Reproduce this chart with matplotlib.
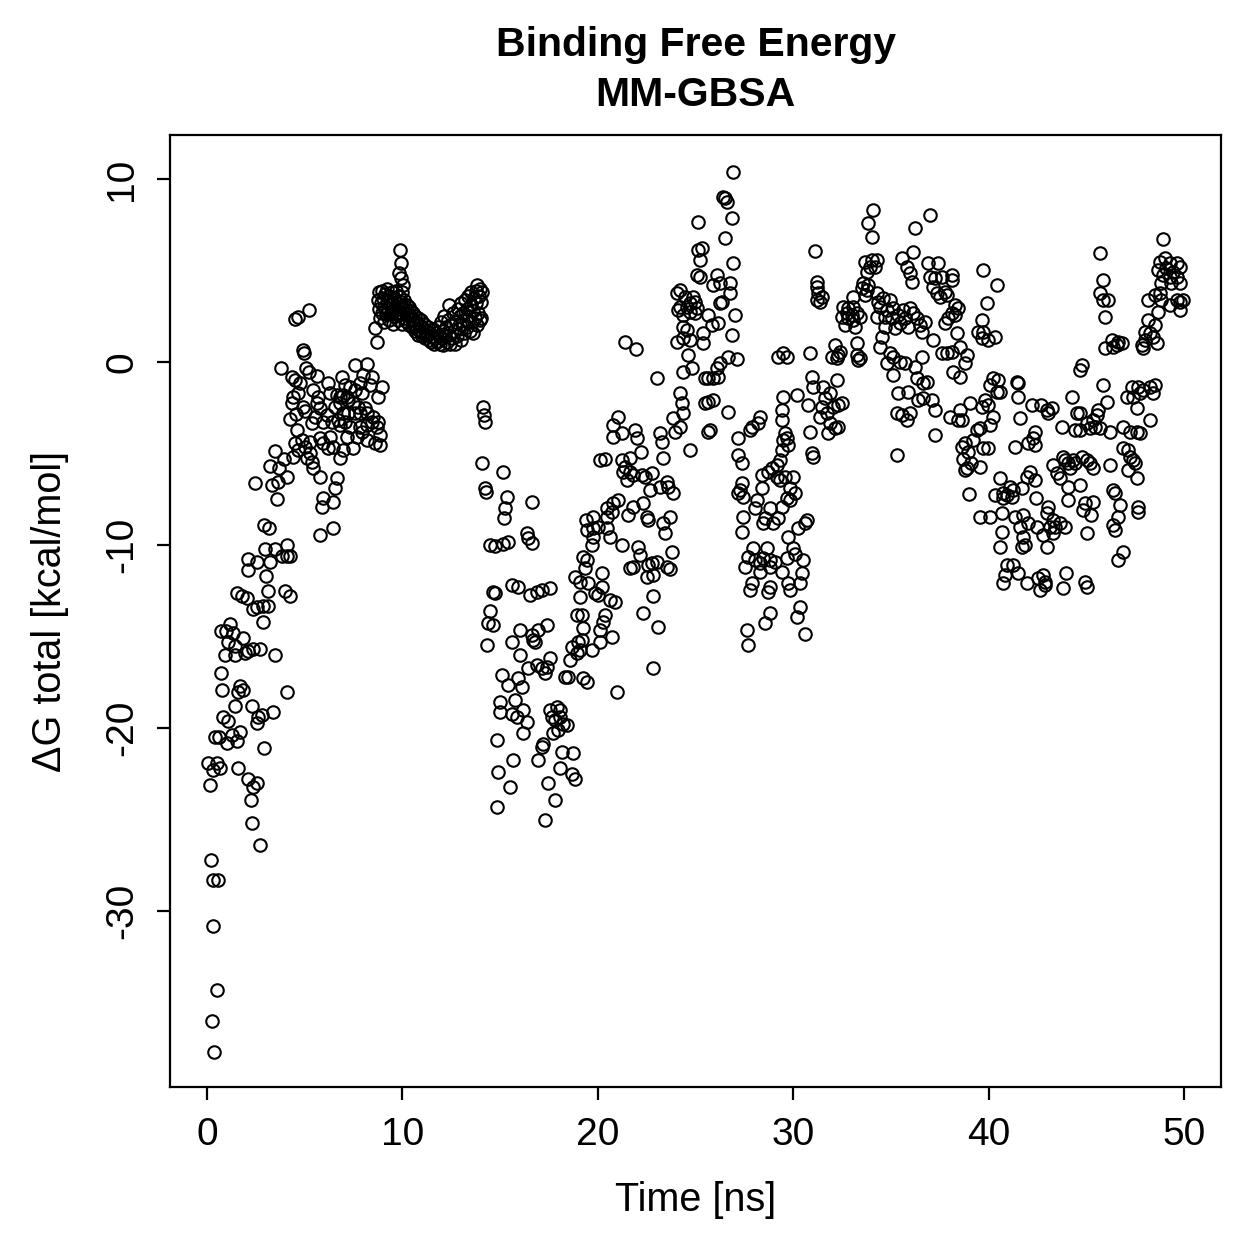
import numpy as np
import matplotlib.pyplot as plt

plt.rcParams["font.family"] = ["Liberation Sans", "DejaVu Sans"]
plt.rcParams["axes.unicode_minus"] = False

# (time [ns], dG total [kcal/mol]), grouped by stretch of the run
equilibration = [
    (3.77, -0.3), (4.25, -3.09), (4.56, -2.84), (3.48, -4.86), (3.91, -5.32), (3.22, -5.7),
    (3.70, -5.79), (4.08, -6.26), (2.46, -6.63), (3.31, -6.72), (3.65, -6.56), (3.60, -7.49),
    (2.92, -8.89), (3.19, -9.04), (2.97, -10.22), (3.48, -10.22), (4.08, -9.98), (3.82, -10.6),
    (4.08, -10.6), (4.25, -10.6), (2.11, -10.75), (2.11, -11.37), (2.54, -10.9), (3.22, -10.9),
    (3.02, -11.7), (3.14, -12.5), (3.99, -12.5), (4.25, -12.8), (1.52, -12.6), (1.78, -12.8),
    (2.03, -12.9), (2.37, -13.5), (2.54, -13.4), (2.85, -13.3), (3.14, -13.3), (2.85, -14.2),
    (0.70, -14.7), (0.97, -14.7), (1.18, -14.3), (1.35, -14.8), (1.09, -15.3), (1.43, -15.5),
    (1.86, -15.1), (1.94, -15.9), (2.11, -15.8), (2.37, -15.7), (2.71, -15.7), (3.48, -16.0),
    (0.92, -16.0), (1.43, -16.0), (0.70, -17.0), (0.75, -17.9), (1.69, -17.7), (1.83, -17.9),
    (1.60, -18.0), (1.43, -18.8), (4.11, -18.0), (2.29, -18.8), (2.63, -19.4), (2.54, -19.7),
    (2.80, -19.3), (3.39, -19.1), (0.83, -19.4), (1.09, -19.6), (1.26, -20.4), (1.01, -20.8),
    (1.52, -20.7), (1.69, -20.2), (0.41, -20.5), (0.63, -20.5), (2.92, -21.1), (0.07, -21.9),
    (0.32, -22.3), (0.66, -22.2), (0.50, -21.9), (0.15, -23.1), (1.60, -22.2), (2.11, -22.8),
    (2.37, -23.2), (2.54, -23.0), (2.24, -23.9), (2.29, -25.2), (2.71, -26.4), (0.19, -27.2),
    (0.32, -28.3), (0.58, -28.3), (0.29, -30.8), (0.53, -34.3), (0.24, -36.0), (0.36, -37.7),
    (5.19, 2.84), (4.50, 2.33), (4.67, 2.44), (4.93, 0.66), (4.96, 0.47), (5.07, -0.35),
    (5.19, -0.53), (5.61, -0.77), (4.33, -0.8), (4.50, -0.98), (4.76, -1.17), (4.67, -1.71),
    (4.42, -1.9), (4.33, -2.26), (5.44, -1.53), (4.93, -2.44), (5.61, -2.26), (5.02, -2.7),
    (6.21, -1.17), (6.29, -1.71), (6.89, -0.8), (7.06, -1.26), (6.98, -1.8), (7.57, -0.16),
    (8.17, -0.11), (8.00, -0.71), (8.43, -0.8), (8.94, -1.35), (8.77, -1.9), (8.34, -1.26),
    (7.32, -1.35), (7.57, -1.53), (7.83, -1.17), (7.92, -1.71), (7.23, -2.08), (7.49, -2.26),
    (7.74, -2.44), (8.09, -2.53), (6.64, -1.8), (6.81, -2.26), (6.55, -2.44), (6.98, -2.8),
    (6.72, -3.17), (6.38, -3.26), (6.13, -2.9), (5.95, -3.26), (5.78, -2.53), (5.53, -2.99),
    (5.36, -3.35), (5.70, -1.9), (4.59, -3.72), (4.50, -4.44), (4.85, -4.26), (4.67, -4.81),
    (5.02, -4.63), (5.27, -4.36), (5.27, -4.99), (5.10, -5.26), (5.36, -5.45), (5.44, -5.81),
    (4.42, -5.17), (5.78, -6.27), (5.95, -4.44), (6.21, -4.72), (6.46, -4.63), (6.29, -4.08),
    (5.78, -4.17), (6.64, -6.36), (6.55, -6.9), (6.46, -7.63), (5.95, -7.45), (5.87, -7.91),
    (5.78, -9.45), (6.46, -9.09), (6.98, -4.81), (6.81, -5.26), (7.49, -4.72), (7.15, -4.08),
    (7.66, -4.08), (7.83, -3.53), (8.17, -3.44), (8.43, -3.26), (8.68, -3.53), (8.85, -3.99),
    (8.60, -4.44), (8.85, -4.54), (8.17, -4.26), (7.92, -3.81), (7.32, -3.53), (7.06, -3.26),
    (6.81, -3.44), (7.23, -2.8), (7.57, -2.8), (7.83, -2.8), (8.17, -2.8), (8.51, -2.99),
    (8.77, -3.26), (6.81, -1.9), (7.15, -1.9), (8.60, 1.84), (8.68, 1.11),
]

plateau = [
    (8.75, 3.4), (8.8, 2.9), (8.8, 3.8), (8.85, 2.4), (8.9, 3.2), (8.95, 3.9), (8.95, 2.7),
    (9.0, 3.5), (9.05, 2.2), (9.05, 3.0), (9.1, 3.7), (9.15, 2.6), (9.2, 3.3), (9.2, 4.0),
    (9.25, 2.9), (9.3, 2.3), (9.3, 3.6), (9.35, 3.1), (9.4, 2.6), (9.45, 3.8), (9.45, 3.3),
    (9.5, 2.8), (9.5, 2.1), (9.55, 3.5), (9.6, 3.0), (9.6, 2.5), (9.65, 3.9), (9.7, 3.2),
    (9.7, 2.7), (9.75, 2.3), (9.8, 3.6), (9.85, 3.0), (9.85, 6.1), (9.9, 5.4), (9.8, 4.85),
    (9.95, 4.6), (10.05, 4.2), (9.9, 2.6), (9.95, 3.3), (10.0, 2.1), (10.0, 3.8), (10.05, 2.9),
    (10.1, 2.4), (10.1, 3.4), (10.15, 3.0), (10.2, 2.6),
    (10.25, 3.1), (10.25, 2.2), (10.3, 2.7), (10.35, 3.0), (10.35, 2.0), (10.4, 2.5),
    (10.45, 2.8), (10.5, 1.9), (10.5, 2.3), (10.55, 2.7), (10.6, 2.1), (10.65, 1.7),
    (10.65, 2.5), (10.7, 2.2), (10.75, 1.8), (10.8, 2.4), (10.8, 1.5), (10.85, 2.0),
    (10.9, 1.7), (10.95, 2.3), (11.0, 1.4), (11.0, 1.9), (11.05, 1.6), (11.1, 2.1),
    (11.15, 1.3), (11.2, 1.7), (11.25, 1.5), (11.3, 1.9), (11.35, 1.2), (11.4, 1.6),
    (11.45, 1.1), (11.5, 1.4),
    (11.55, 1.8), (11.6, 1.0), (11.65, 1.3), (11.7, 1.6), (11.75, 1.1), (11.8, 1.9),
    (11.85, 1.4), (11.9, 1.0), (11.95, 2.2), (12.0, 1.3), (12.05, 1.7), (12.1, 0.95),
    (12.15, 2.5), (12.2, 1.4), (12.25, 1.9), (12.3, 1.1), (12.35, 2.3), (12.4, 3.1),
    (12.4, 1.5), (12.45, 1.0), (12.5, 2.0), (12.55, 1.3), (12.6, 2.7), (12.65, 1.7),
    (12.7, 1.0), (12.75, 2.2), (12.8, 1.4),
    (12.85, 2.9), (12.9, 1.8), (12.95, 2.5), (13.0, 1.2), (13.0, 3.2), (13.05, 2.1),
    (13.1, 2.7), (13.15, 1.6), (13.2, 3.4), (13.25, 2.3), (13.3, 1.9), (13.3, 2.9),
    (13.35, 3.6), (13.4, 2.5), (13.45, 1.7), (13.5, 3.1), (13.5, 3.8), (13.55, 2.2),
    (13.6, 1.6), (13.6, 2.8), (13.65, 3.5), (13.7, 2.4), (13.75, 3.9), (13.75, 3.2),
    (13.8, 2.0), (13.8, 4.2), (13.85, 2.7), (13.9, 3.6), (13.95, 2.3), (13.95, 4.0),
    (14.0, 3.3), (14.0, 2.4), (14.05, 3.8),
]

collapse = [
    (14.12, -2.45), (14.15, -2.9), (14.23, -3.3), (14.06, -5.54), (15.16, -5.99), (14.23, -6.9),
    (14.28, -7.09), (15.34, -7.36), (15.25, -7.99), (15.2, -8.54), (16.62, -7.63), (14.48, -10.0),
    (14.74, -10.05), (15.16, -9.95), (15.42, -9.82), (16.36, -9.36), (16.62, -9.87), (16.45, -9.63),
    (14.65, -12.55), (14.74, -12.64), (15.59, -12.19), (15.93, -12.28), (16.53, -12.73),
    (16.87, -12.55), (17.13, -12.46), (17.55, -12.37), (14.48, -13.59), (14.4, -14.28),
    (14.62, -14.37), (14.31, -15.46), (15.59, -15.28), (16.02, -14.64), (16.7, -15.19),
    (16.96, -14.64), (17.38, -14.37), (16.62, -14.92), (16.79, -15.28), (16.02, -16.01),
    (15.08, -17.1), (15.42, -17.65), (15.93, -17.28), (16.1, -17.74), (16.45, -16.74),
    (16.87, -16.56), (17.13, -16.74), (17.38, -16.65), (17.55, -16.19), (17.3, -17.01),
    (15.0, -18.56), (15.0, -19.11), (15.76, -18.47), (15.59, -19.2), (15.85, -19.38),
    (16.19, -19.02), (16.36, -19.66), (14.83, -20.66), (16.19, -20.29), (14.91, -22.39),
    (15.68, -21.75), (15.51, -23.21), (14.83, -24.3), (16.96, -21.75), (17.13, -21.02),
    (17.21, -20.84), (17.47, -23.02), (17.81, -23.93), (17.3, -25.03), (18.15, -21.29),
    (18.75, -21.38), (18.07, -22.2), (18.66, -22.48), (18.83, -22.75), (18.32, -17.2),
    (18.49, -17.2), (18.58, -16.28), (17.55, -19.02), (17.9, -18.83), (18.07, -19.38),
    (18.24, -19.75), (17.98, -20.11), (17.72, -20.29), (18.41, -19.84), (17.64, -19.38),
    (17.81, -19.56), (18.07, -19.02), (18.92, -13.83), (19.09, -12.82), (18.83, -11.73),
    (18.66, -15.56), (19.0, -15.28), (18.92, -15.92), (19.4, -8.63),
]

recovery = [
    (21.39, 1.11), (21.95, 0.69), (23.01, -0.89), (21.05, -2.99), (20.8, -3.44), (21.22, -3.9),
    (20.76, -4.08), (21.9, -3.72), (21.99, -4.17), (22.2, -4.9), (23.18, -3.9), (23.27, -4.36),
    (23.35, -5.26), (20.11, -5.36), (20.37, -5.32), (21.22, -5.36), (21.65, -5.26), (21.39, -5.72),
    (21.3, -5.99), (21.65, -5.99), (21.82, -6.17), (21.48, -6.45), (22.25, -6.17), (22.41, -6.27),
    (22.76, -6.08), (22.67, -6.99), (23.18, -6.81), (23.53, -6.54), (23.61, -6.81), (23.86, -7.17),
    (21.05, -7.54), (20.8, -7.72), (20.45, -7.99), (20.71, -8.18), (20.45, -8.45), (21.82, -7.91),
    (22.33, -7.69), (21.56, -8.36), (22.5, -8.45), (22.59, -8.63), (23.7, -8.45), (23.35, -8.82),
    (23.44, -9.36), (19.77, -8.45), (19.43, -9.18), (19.77, -9.09), (20.03, -9.0), (20.45, -9.09),
    (20.62, -9.55), (21.22, -10.0), (19.77, -9.55), (19.69, -10.0), (22.07, -10.09), (22.16, -10.55),
    (21.65, -11.27), (21.82, -11.18), (22.59, -11.09), (22.76, -11.0), (23.01, -10.92),
    (22.5, -11.73), (22.84, -11.64), (23.53, -11.18), (23.7, -11.28), (23.78, -10.37),
    (19.26, -10.64), (19.43, -10.82), (19.35, -11.27), (19.52, -12.09), (20.2, -11.55),
    (20.2, -12.28), (19.86, -12.64), (20.03, -12.73), (20.62, -13.0), (20.88, -13.1),
    (22.84, -12.79), (22.33, -13.7), (23.1, -14.5), (22.84, -16.7), (20.97, -18.0),
    (19.18, -13.83), (19.26, -14.55), (19.18, -15.19), (19.09, -15.74), (19.69, -15.74),
    (20.11, -14.64), (20.37, -13.83), (20.28, -14.19), (20.71, -15.01), (20.11, -15.28),
    (19.26, -17.28), (19.43, -17.47), (19.09, -12.0),
    (24.04, 3.75), (24.12, 2.84), (24.04, 1.11), (23.86, -3.08), (23.95, -3.81),
    (26.94, 10.4), (26.42, 9.03), (26.6, 8.76), (26.51, 8.94), (25.14, 7.67), (26.85, 7.85),
    (26.51, 6.76), (25.14, 6.12), (25.31, 6.21), (25.23, 5.57), (26.94, 5.39), (25.06, 4.75),
    (25.23, 4.66), (26.08, 4.75), (25.91, 4.21), (26.25, 4.3), (26.77, 4.3), (26.77, 3.75),
    (24.21, 3.93), (24.46, 3.57), (24.89, 3.57), (24.97, 3.3), (24.72, 3.2), (24.55, 3.02),
    (24.21, 3.02), (25.06, 2.93), (24.97, 2.66), (24.38, 2.57), (24.72, 2.75), (26.34, 3.3),
    (26.25, 3.2), (27.02, 2.57), (25.66, 2.57), (25.83, 2.02), (26.17, 2.11), (25.4, 1.57),
    (25.4, 1.02), (24.38, 1.93), (24.55, 1.75), (24.72, 1.2), (24.38, 1.29), (26.85, 1.48),
    (24.63, 0.38), (24.38, -0.53), (24.8, -0.35), (26.68, 0.29), (27.11, 0.15), (26.25, -0.07),
    (26.08, -0.35), (25.91, -0.89), (25.66, -0.89), (25.49, -0.89), (26.17, -0.8), (24.21, -1.71),
    (24.29, -2.26), (24.38, -2.81), (24.21, -3.54), (24.72, -4.81), (25.49, -2.26), (25.66, -2.17),
    (25.91, -2.08), (26.68, -2.72), (25.74, -3.72), (25.66, -3.81), (29.24, 0.29),
    (28.3, -2.99), (27.88, -3.54), (28.22, -3.35), (27.79, -3.72), (27.17, -4.17), (27.17, -5.08),
    (27.36, -5.54), (29.15, -5.63), (28.9, -5.81), (28.73, -5.99), (28.39, -6.17), (29.15, -6.27),
    (27.36, -6.63), (27.28, -6.99), (27.17, -7.17), (27.45, -7.36), (28.13, -7.54), (28.04, -7.99),
    (28.39, -6.9), (28.81, -7.99), (28.56, -8.54), (29.24, -8.54), (28.99, -8.82), (27.45, -8.45),
    (27.36, -9.27), (28.47, -8.82), (27.96, -10.18), (28.64, -10.18), (27.7, -10.64),
    (28.04, -10.82), (28.3, -11.0), (28.47, -10.73), (28.81, -10.82), (29.07, -10.91),
    (27.53, -11.19), (28.3, -11.46), (28.81, -11.19), (27.88, -12.09), (27.79, -12.46),
    (28.81, -12.28), (28.73, -12.55), (28.81, -13.73), (28.56, -14.28), (27.62, -14.64),
    (27.7, -15.46), (29.75, -9.55), (29.67, -10.73),
]

fluctuation = [
    (34.1, 8.31), (33.84, 7.58), (34.01, 6.85), (31.12, 6.08), (33.67, 5.48), (34.01, 5.57),
    (34.27, 5.57), (33.93, 5.21), (34.19, 5.21), (33.76, 4.93), (31.2, 4.39), (31.2, 4.12),
    (31.29, 3.75), (31.46, 3.57), (31.37, 3.3), (31.2, 3.39), (33.59, 4.3), (33.84, 4.21),
    (33.5, 4.03), (33.76, 3.93), (33.07, 3.57), (33.67, 3.66), (34.27, 3.75), (34.36, 3.3),
    (32.56, 3.02), (32.82, 2.93), (33.07, 3.02), (32.74, 2.66), (32.99, 2.57), (33.25, 2.66),
    (32.48, 2.48), (32.82, 2.39), (33.07, 2.3), (33.42, 2.48), (32.66, 2.02), (33.16, 1.93),
    (34.27, 2.48), (33.25, 1.02), (32.14, 0.93), (32.39, 0.56), (29.49, 0.47), (29.67, 0.29),
    (30.86, 0.47), (31.97, 0.29), (32.22, 0.2), (32.31, 0.38), (33.25, 0.38), (33.33, 0.11),
    (33.42, 0.2), (30.95, -0.8), (31.03, -1.35), (31.54, -1.35), (31.63, -1.98), (31.46, -2.44),
    (31.37, -2.99), (31.71, -2.8), (31.88, -3.35), (31.8, -3.9), (32.14, -3.62), (32.31, -3.53),
    (32.22, -0.98), (32.31, -2.35), (32.48, -2.26), (32.05, -2.44), (31.88, -1.71), (30.18, -1.8),
    (29.49, -1.9), (29.41, -2.62), (29.41, -3.17), (29.58, -3.9), (29.49, -4.26), (29.41, -4.81),
    (29.75, -4.54), (29.67, -4.17), (30.77, -2.35), (30.86, -3.81), (30.95, -4.99), (31.03, -5.17),
    (29.32, -5.36), (29.58, -6.27), (29.32, -6.45), (30.01, -6.27), (29.84, -6.9), (30.09, -7.17),
    (29.67, -7.45), (29.41, -7.91), (29.84, -7.54), (30.69, -8.63), (30.6, -8.82), (30.26, -9.09),
    (30.01, -10.18), (30.09, -10.46), (30.52, -10.82), (30.43, -11.55), (30.35, -12.09),
    (29.75, -12.09), (29.84, -12.46), (30.35, -13.37), (30.18, -13.92), (30.6, -14.83),
    (29.41, -11.46),
    (37.0, 8.03), (36.23, 7.3), (36.15, 6.03), (35.55, 5.66), (35.81, 5.21), (35.98, 4.84),
    (36.06, 4.39), (36.91, 5.39), (37.43, 5.39), (36.99, 4.66), (37.26, 4.57), (37.6, 4.66),
    (38.11, 4.75), (38.11, 4.48), (37.17, 4.11), (37.34, 3.75), (37.76, 3.84), (37.51, 3.57),
    (37.85, 3.66), (39.48, 1.66), (38.28, 3.11), (38.45, 2.93), (38.11, 2.66), (38.28, 2.57),
    (37.94, 2.39), (37.77, 2.11), (34.61, 3.48), (34.95, 3.39), (34.44, 3.02), (34.78, 2.84),
    (35.12, 2.93), (34.7, 2.48), (35.04, 2.39), (35.38, 2.57), (35.64, 2.84), (35.98, 2.93),
    (36.15, 2.66), (35.72, 2.39), (35.47, 2.11), (35.89, 1.93), (36.32, 2.39), (36.49, 2.02),
    (36.75, 2.2), (36.58, 1.66), (34.7, 1.93), (35.21, 1.84), (34.53, 1.38), (34.44, 0.84),
    (37.17, 1.2), (38.37, 1.57), (37.6, 0.47), (37.85, 0.47), (38.11, 0.56), (38.54, 0.84),
    (38.88, 0.38), (38.79, -0.07), (38.19, -0.53), (38.54, -0.8), (34.95, 0.47), (35.12, 0.29),
    (34.78, -0.07), (35.47, 0.02), (35.72, -0.07), (35.12, -0.71), (36.23, -0.26), (36.58, 0.29),
    (36.32, -0.89), (36.66, -1.17), (36.83, -1.08), (35.38, -1.71), (35.89, -1.62), (36.4, -2.08),
    (36.66, -1.99), (37.09, -2.08), (35.3, -2.81), (35.55, -2.9), (35.81, -3.17), (35.98, -2.81),
    (37.26, -2.62), (38.02, -2.99), (38.54, -2.62), (38.63, -3.17), (39.05, -2.26), (37.26, -3.99),
    (38.45, -3.17), (39.39, -3.72), (39.22, -4.26), (38.79, -4.45), (38.63, -4.63), (35.3, -5.1),
    (38.7, -5.3), (38.9, -5.8), (39.1, -5.5), (38.8, -5.9), (39.0, -7.2), (38.95, -4.9),
]

late = [
    (39.73, 5.03), (40.41, 4.21), (39.9, 3.24), (39.65, 2.3), (39.73, 1.66), (39.99, 1.2),
    (40.33, 1.38), (39.65, 1.29), (40.24, -0.89), (40.5, -0.98), (40.07, -1.26), (40.41, -1.62),
    (40.58, -1.62), (41.44, -1.08), (41.52, -1.17), (39.82, -2.08), (39.99, -2.35), (39.65, -2.44),
    (41.52, -1.9), (42.2, -2.35), (42.71, -2.35), (42.97, -2.62), (43.23, -2.53), (43.05, -2.81),
    (44.25, -1.9), (40.24, -2.99), (40.07, -3.44), (41.61, -3.08), (43.74, -3.54), (44.51, -2.81),
    (44.42, -3.72), (42.37, -3.81), (42.29, -4.17), (42.03, -4.45), (42.37, -4.54), (41.35, -4.63),
    (39.56, -3.62), (39.73, -4.72), (39.99, -4.72), (39.56, -5.72), (43.31, -5.63), (43.48, -6.08),
    (43.82, -5.17), (43.91, -5.36), (44.08, -5.54), (44.34, -5.36), (44.17, -5.81), (44.42, -5.54),
    (44.08, -6.81), (43.65, -6.36), (41.95, -6.27), (42.12, -5.99), (42.37, -6.45), (41.69, -6.9),
    (41.1, -6.81), (41.27, -6.99), (40.93, -7.27), (40.76, -7.17), (41.18, -7.36), (40.33, -7.27),
    (40.58, -6.36), (40.76, -7.45), (42.45, -7.45), (43.05, -7.91), (42.97, -8.27), (43.31, -8.63),
    (43.4, -9.0), (43.65, -8.82), (43.91, -9.0), (43.14, -9.0), (42.8, -9.45), (43.31, -9.36),
    (44.08, -7.54), (39.56, -8.45), (40.07, -8.45), (40.67, -8.27), (41.35, -8.45), (41.78, -8.36),
    (42.03, -8.82), (41.61, -9.0), (42.46, -9.0), (40.67, -9.27), (40.58, -10.09), (41.78, -9.55),
    (41.86, -10.0), (41.69, -10.09), (42.97, -10.09), (40.93, -11.09), (41.27, -11.09),
    (40.84, -11.64), (41.52, -11.55), (40.76, -12.09), (41.95, -12.09), (42.55, -11.82),
    (42.8, -11.64), (42.89, -12.0), (42.63, -12.46), (42.89, -12.19), (43.99, -11.55),
    (43.82, -12.37),
    (48.94, 6.7), (45.7, 5.94), (48.77, 5.48), (49.03, 5.66), (49.28, 5.39), (49.63, 5.39),
    (48.69, 5.03), (49.11, 5.12), (49.45, 4.93), (49.8, 5.21), (48.94, 4.75), (49.28, 4.66),
    (49.63, 4.66), (48.85, 4.3), (49.36, 4.3), (49.8, 4.3), (45.87, 4.48), (45.7, 3.75),
    (45.87, 3.39), (46.13, 3.39), (45.96, 2.48), (48.17, 3.39), (48.52, 3.66), (48.77, 3.75),
    (48.85, 3.39), (49.28, 3.11), (49.63, 3.39), (49.8, 3.3), (49.97, 3.39), (49.8, 2.84),
    (48.69, 2.75), (48.17, 2.3), (48.52, 2.02), (48.0, 1.66), (48.26, 1.57), (48.43, 1.38),
    (48.0, 1.2), (47.84, 0.93), (47.92, 0.75), (48.6, 1.02), (46.3, 1.2), (46.64, 1.11),
    (46.81, 1.02), (45.96, 0.75), (46.39, 0.84), (46.56, 0.93), (44.76, -0.16), (44.68, -0.44),
    (45.87, -1.26), (46.04, -2.17), (45.61, -2.62), (45.53, -2.9), (45.36, -3.17), (45.44, -3.54),
    (45.7, -3.62), (45.19, -3.62), (44.68, -2.8), (44.68, -3.72), (45.02, -3.35), (47.32, -1.35),
    (47.66, -1.35), (47.92, -1.53), (48.26, -1.35), (48.52, -1.26), (48.43, -1.71), (47.07, -1.9),
    (47.41, -1.9), (47.75, -1.71), (47.58, -2.53), (48.26, -3.17), (46.21, -3.81), (46.89, -3.54),
    (47.24, -3.81), (47.58, -3.81), (47.75, -3.9), (44.76, -5.17), (45.02, -5.36), (45.19, -5.54),
    (45.36, -5.81), (46.21, -5.63), (46.89, -4.72), (47.15, -4.81), (47.24, -5.17), (47.41, -5.36),
    (47.49, -5.54), (47.15, -5.9), (47.58, -6.36), (44.68, -6.72), (44.93, -7.72), (44.85, -8.09),
    (45.36, -7.63), (45.27, -8.36), (45.02, -9.36), (46.39, -6.99), (46.47, -7.17), (46.73, -7.81),
    (46.64, -8.45), (46.39, -8.9), (46.47, -9.18), (47.66, -7.91), (47.66, -8.18), (46.89, -10.37),
    (46.64, -10.82), (44.93, -12.0), (45.02, -12.28),
]

points = np.array(equilibration + plateau + collapse + recovery + fluctuation + late)
time_ns = points[:, 0]
dg_total = points[:, 1]

fig = plt.figure(figsize=(12.59, 12.59), dpi=100)
ax = fig.add_axes([170 / 1259, 1 - 1087 / 1259, (1221 - 170) / 1259, (1087 - 135) / 1259])

ax.plot(time_ns, dg_total, "o", mfc="none", mec="black", ms=9, mew=1.5)

ax.set_xlim(-1.9, 51.9)
ax.set_ylim(-39.6, 12.4)
ax.set_xticks([0, 10, 20, 30, 40, 50])
ax.set_yticks([-30, -20, -10, 0, 10])
ax.set_yticklabels(["-30", "-20", "-10", "0", "10"], rotation=90, va="center")
ax.tick_params(direction="out", length=9.5, width=1.6, labelsize=28, pad=12)
for s in ax.spines.values():
    s.set_linewidth(1.6)

cx = (170 + 1221) / 2 / 1259
fig.text(cx, 1 - 45 / 1259, "Binding Free Energy", ha="center", va="center",
         fontsize=29.5, fontweight="bold")
fig.text(cx, 1 - 95 / 1259, "MM-GBSA", ha="center", va="center",
         fontsize=29.5, fontweight="bold")
fig.text(cx, 1 - 1200 / 1259, "Time [ns]", ha="center", va="center", fontsize=28.5)
fig.text(50 / 1259, 1 - 611 / 1259, "ΔG total [kcal/mol]", ha="center", va="center",
         rotation=90, fontsize=28.5)

fig.savefig("out.png", dpi=100)
